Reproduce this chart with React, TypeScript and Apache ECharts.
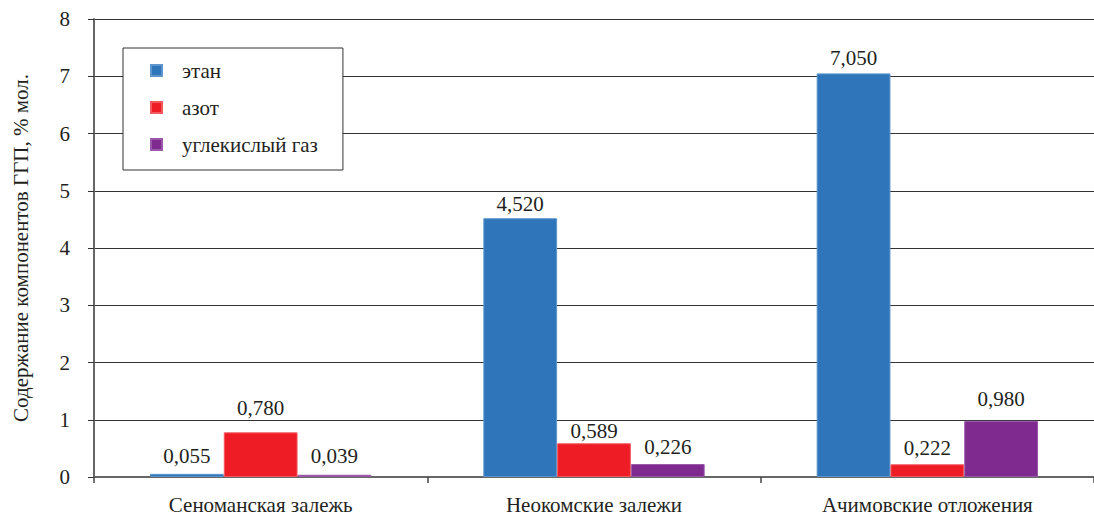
import React, { useEffect, useRef } from "react";
import * as echarts from "echarts";

// Categories, series and axis ticks
const categories = ["Сеноманская залежь", "Неокомские залежи", "Ачимовские отложения"];
const seriesNames = ["этан", "азот", "углекислый газ"];
const ethane = [0.055, 4.52, 7.05];
const nitrogen = [0.78, 0.589, 0.222];
const carbonDioxide = [0.039, 0.226, 0.98];
const yTicks = [0, 1, 2, 3, 4, 5, 6, 7, 8];
const yAxisTitle = "Содержание компонентов ГГП, % мол.";

// Label lift above each bar (px), kept apart from the values
const labelLift = [
  [7, 4, 4.7],
  [13.4, 1.8, 6],
  [8, 6.4, 11.4],
];

const colors = ["#2E75BA", "#EE1D25", "#7F2A8F"];
const edges = ["#5E95CC", "#F25A60", "#9A58A8"];
const FONT = "Liberation Serif";
const FS = 21;
const TEXT = "#231F20";

const fmt = (v: number) => v.toFixed(3).replace(".", ",");

export default function App() {
  const ref = useRef<HTMLDivElement>(null);

  useEffect(() => {
    if (!ref.current) return;
    const chart = echarts.init(ref.current, null, { renderer: "svg" });
    const values = [ethane, nitrogen, carbonDioxide];
    chart.setOption({
      animation: false,
      textStyle: { fontFamily: FONT, color: TEXT },
      grid: { left: 94, top: 19, width: 1006, bottom: 38, containLabel: false },
      legend: {
        orient: "vertical",
        left: 123,
        top: 48,
        padding: [12, 25, 15, 27],
        itemWidth: 11,
        itemHeight: 11,
        itemGap: 16,
        icon: "rect",
        borderColor: "#333",
        borderWidth: 1,
        backgroundColor: "#fff",
        data: seriesNames,
        textStyle: {
          fontFamily: FONT,
          fontSize: FS,
          color: TEXT,
          lineHeight: 21,
          padding: [0, 0, 0, 15],
        },
      },
      xAxis: {
        type: "category",
        data: categories,
        axisLine: { lineStyle: { color: "#666", width: 2 } },
        axisTick: { show: true, length: 6, lineStyle: { color: "#444", width: 1.5 } },
        axisLabel: { fontFamily: FONT, fontSize: FS, color: TEXT, margin: 17 },
      },
      yAxis: {
        type: "value",
        min: yTicks[0],
        max: yTicks[yTicks.length - 1],
        interval: 1,
        name: yAxisTitle,
        nameLocation: "middle",
        nameGap: 63,
        nameTextStyle: { fontFamily: FONT, fontSize: FS, color: TEXT },
        axisLine: { show: true, lineStyle: { color: "#666", width: 2 } },
        axisTick: { show: true, length: 6, lineStyle: { color: "#333", width: 1 } },
        axisLabel: { fontFamily: FONT, fontSize: FS, color: TEXT, margin: 24 },
        splitLine: { show: true, lineStyle: { color: "#333", width: 1 } },
      },
      series: seriesNames.map((name, i) => ({
        name,
        type: "bar",
        data: values[i].map((v, j) => ({ value: v, label: { distance: labelLift[i][j] } })),
        barGap: "0%",
        barCategoryGap: "33.6%",
        itemStyle: { color: colors[i], borderColor: edges[i], borderWidth: 1 },
        label: {
          show: true,
          position: "top",
          fontFamily: FONT,
          fontSize: FS,
          color: TEXT,
          formatter: (p: any) => fmt(p.value),
        },
      })),
    });
    return () => chart.dispose();
  }, []);

  return (
    <div
      ref={ref}
      style={{ position: "fixed", left: 0, top: 0, width: 1094, height: 515, background: "#fff" }}
    />
  );
}
